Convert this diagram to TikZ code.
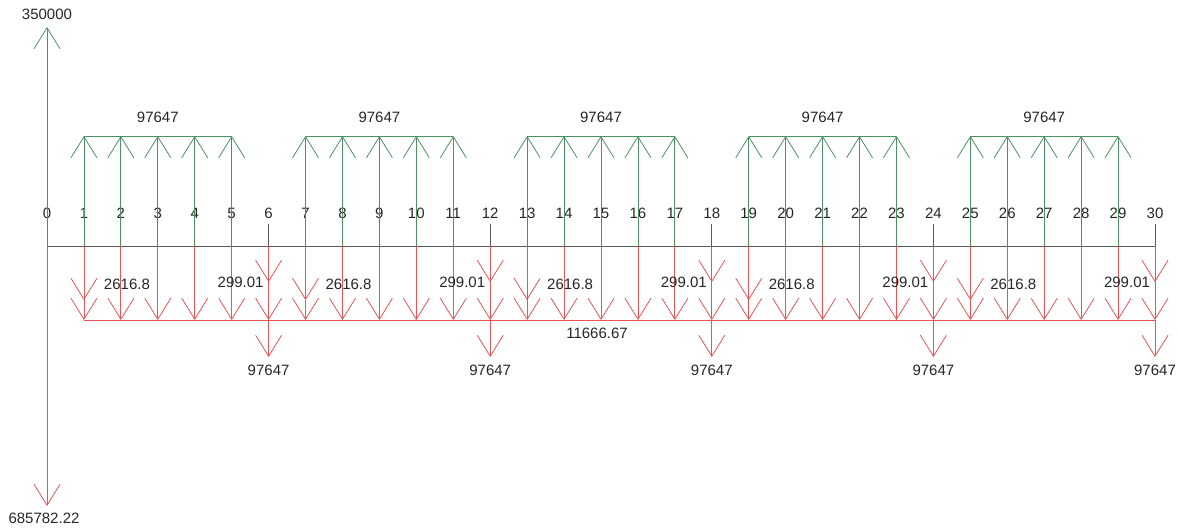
\documentclass[tikz,border=0pt]{standalone}
\usepackage{fontspec}
\setmainfont{Liberation Sans}
\usetikzlibrary{arrows.meta}
\definecolor{gcol}{RGB}{76,145,100}
\definecolor{rcol}{RGB}{232,84,84}
\definecolor{axcol}{RGB}{90,90,90}
\begin{document}
\begin{tikzpicture}[x=1pt,y=-1pt,
  grnline/.style={draw=gcol,line width=0.8pt},
  redline/.style={draw=rcol,line width=0.8pt},
  axline/.style={draw=axcol,line width=0.8pt},
  head/.style={-{Straight Barb[length=21pt,width=26pt]}},
  lbl/.style={font=\fontsize{15}{18}\selectfont,inner sep=0pt,text=black!85}]
\useasboundingbox (0,0) rectangle (1178,531);
% ticks and labels
\foreach \i in {0,...,30}{
  \pgfmathsetmacro{\xx}{47+36.933*\i}
  \coordinate (b\i) at (\xx,246);
  \coordinate (r\i) at (\xx,320);
  \coordinate (g\i) at (\xx,136);
  \coordinate (s\i) at (\xx,300);
  \coordinate (p\i) at (\xx,282);
  \coordinate (q\i) at (\xx,357);
  \coordinate (u\i) at (\xx,224);
  \node[lbl] (n\i) at (\xx,213) {\i};
}
% baseline
\draw[axline] (b0) -- (b30);
% gray ticks at multiples of 6
\foreach \i in {6,12,18,24,30}{
  \draw[axline] (u\i) -- (b\i);
}
% green inflows
\foreach \k in {0,...,4}{
  \foreach \j in {1,...,5}{
    \pgfmathtruncatemacro{\i}{6*\k+\j}
    \draw[grnline,head] (b\i) -- (g\i);
  }
  \pgfmathtruncatemacro{\a}{6*\k+1}
  \pgfmathtruncatemacro{\c}{6*\k+3}
  \pgfmathtruncatemacro{\e}{6*\k+5}
  \draw[grnline] (g\a) -- (g\e);
  \node[lbl] (top\k) at ([yshift=19pt]g\c) {97647};
}
% big inflow at 0
\coordinate (gtop) at (47,27);
\draw[grnline,head] (b0) -- (gtop);
\node[lbl] (lin0) at (47,14) {350000};
% red outflows
\foreach \i in {1,...,30}{
  \draw[redline,head] (b\i) -- (r\i);
}
\draw[redline] (r1) -- (r30);
\node[lbl] (lred) at (597,333) {11666.67};
\foreach \i in {1,7,13,19,25}{
  \draw[redline,head] (b\i) -- (s\i);
  \node[lbl] (lb\i) at ([xshift=43pt,yshift=16pt]s\i) {2616.8};
}
\foreach \i in {6,12,18,24,30}{
  \draw[redline,head] (b\i) -- (p\i);
  \node[lbl] (lp\i) at ([xshift=-28pt]p\i) {299.01};
  \draw[redline,head] (r\i) -- (q\i);
  \node[lbl] (lq\i) at ([yshift=-13pt]q\i) {97647};
}
% big outflow at 0
\coordinate (rbot) at (47,506);
\draw[redline,head] (b0) -- (rbot);
\node[lbl] (lout0) at (44,518) {685782.22};
\end{tikzpicture}
\end{document}
